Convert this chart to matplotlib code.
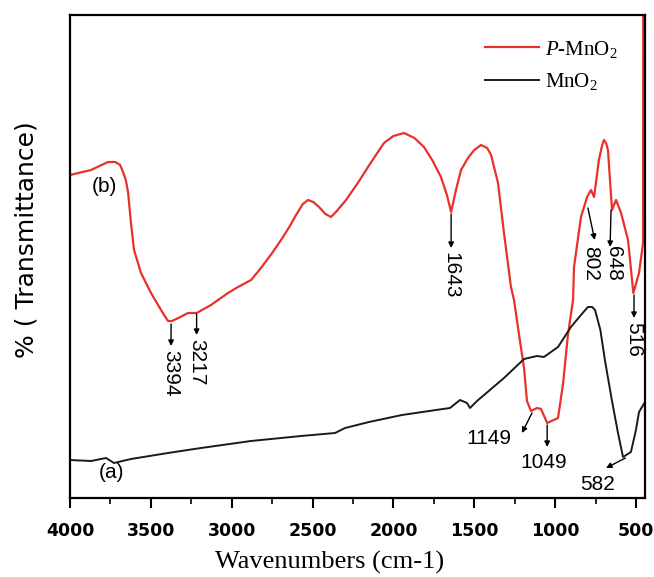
import matplotlib
matplotlib.use("Agg")
import matplotlib.pyplot as plt
from matplotlib.ticker import MultipleLocator

# FTIR spectra (arbitrary transmittance units)
wn_pmno2 = [4000, 3870, 3765, 3720, 3690, 3672, 3655, 3641, 3623, 3604, 3561, 3499,
            3437, 3410, 3394, 3370, 3330, 3270, 3217, 3128, 3023, 2961, 2880, 2819,
            2750, 2695, 2640, 2602, 2560, 2528, 2495, 2460, 2420, 2386, 2350, 2293,
            2220, 2157, 2100, 2058, 2000, 1934, 1870, 1811, 1760, 1706, 1669, 1643,
            1613, 1582, 1539, 1500, 1458, 1420, 1396, 1353, 1316, 1273, 1254, 1220,
            1192, 1174, 1149, 1112, 1087, 1049, 982, 951, 920, 889, 883, 840,
            802, 778, 759, 729, 710, 698, 685, 673, 648, 623, 592, 549,
            516, 481, 456, 455]
t_pmno2 = [323, 328, 336, 336, 333, 326, 318, 306, 275, 248, 225, 205,
           188, 181, 177, 177, 180, 185, 185, 193, 205, 211, 218, 230,
           245, 258, 272, 283, 294, 298, 296, 291, 284, 281, 287, 298,
           315, 331, 345, 355, 362, 365, 360, 351, 338, 321, 303, 286,
           308, 328, 340, 348, 353, 350, 343, 315, 265, 211, 198, 160,
           130, 97, 87, 90, 89, 75, 80, 114, 164, 198, 231, 281,
           301, 308, 301, 338, 352, 358, 355, 348, 288, 298, 285, 258,
           205, 225, 255, 520]

wn_mno2 = [4000, 3870, 3777, 3728, 3623, 3394, 3190, 2881, 2571, 2361, 2299, 2151,
           1947, 1737, 1650, 1588, 1545, 1526, 1483, 1316, 1192, 1112, 1069, 982,
           902, 840, 797, 770, 753, 720, 691, 648, 611, 580, 531, 500, 481, 444]
t_mno2 = [38, 37, 40, 35, 39, 45, 50, 57, 62, 65, 70, 76,
          83, 88, 90, 98, 95, 90, 97, 120, 139, 142, 141, 151,
          171, 183, 191, 191, 188, 168, 137, 97, 65, 41, 46, 68, 86, 96]

series_labels = [r"$P$-MnO$_2$", r"MnO$_2$"]
series_colors = ["#e8312a", "#1a1a1a"]

plt.rcParams["mathtext.fontset"] = "custom"
plt.rcParams["mathtext.rm"] = "Liberation Serif"
plt.rcParams["mathtext.it"] = "Liberation Serif:italic"

fig = plt.figure(figsize=(6.54, 5.77), dpi=100)
ax = fig.add_axes([70 / 654, 1 - 498 / 577, 575 / 654, 483 / 577])

ax.plot(wn_pmno2, t_pmno2, color=series_colors[0], lw=1.6, label=series_labels[0])
ax.plot(wn_mno2, t_mno2, color=series_colors[1], lw=1.4, label=series_labels[1])

ax.set_xlim(4000, 444)
ax.set_ylim(0, 483)
ax.xaxis.set_major_locator(MultipleLocator(500))
ax.xaxis.set_minor_locator(MultipleLocator(250))
ax.set_yticks([])
ax.tick_params(axis="x", which="major", direction="out", length=7, width=1.5,
               labelsize=12.5, pad=10)
ax.tick_params(axis="x", which="minor", direction="out", length=4, width=1.2)
for lab in ax.get_xticklabels():
    lab.set_fontfamily("DejaVu Sans")
    lab.set_fontweight("bold")
for sp in ax.spines.values():
    sp.set_linewidth(1.6)

ax.set_xlabel("Wavenumbers (cm-1)", fontsize=19, family="Liberation Serif")
ax.xaxis.set_label_coords(0.452, -0.11)
ax.set_ylabel("% ( Transmittance)", fontsize=18, family="DejaVu Sans")
ax.yaxis.set_label_coords(-0.055, 0.534)

arrow = dict(arrowstyle="-|>", color="black", lw=1.0, mutation_scale=8,
             shrinkA=0, shrinkB=0)
txt = dict(fontsize=15, family="Liberation Sans")

# vertical peak labels (rotated)
vlabels = [("3394", 3375, 174, 152), ("3217", 3217, 184, 163),
           ("1643", 1643, 284, 250), ("516", 512, 203, 180)]
for s, x, y0, y1 in vlabels:
    ax.annotate("", xy=(x, y1), xytext=(x, y0), arrowprops=arrow)
    ax.text(x, y1 - 4, s, rotation=-90, ha="center", va="top", **txt)

ax.annotate("", xy=(755, 258), xytext=(797, 290), arrowprops=arrow)
ax.text(778, 252, "802", rotation=-90, ha="center", va="top", **txt)
ax.annotate("", xy=(660, 251), xytext=(654, 288), arrowprops=arrow)
ax.text(640, 252, "648", rotation=-90, ha="center", va="top", **txt)

ax.annotate("", xy=(1205, 65), xytext=(1143, 85), arrowprops=arrow)
ax.text(1409, 59, "1149", ha="center", va="center", **txt)
ax.annotate("", xy=(1049, 51), xytext=(1049, 73), arrowprops=arrow)
ax.text(1069, 36, "1049", ha="center", va="center", **txt)
ax.annotate("", xy=(685, 30), xytext=(565, 40), arrowprops=arrow)
ax.text(735, 14, "582", ha="center", va="center", **txt)

ax.text(3746, 25, "(a)", ha="center", va="center", **txt)
ax.text(3790, 311, "(b)", ha="center", va="center", **txt)

ax.legend(loc="upper right", bbox_to_anchor=(0.985, 0.99), frameon=False,
          prop={"family": "Liberation Serif", "size": 15}, handlelength=2.6,
          handletextpad=0.3, labelspacing=0.55)

fig.savefig("out.png", dpi=100)
